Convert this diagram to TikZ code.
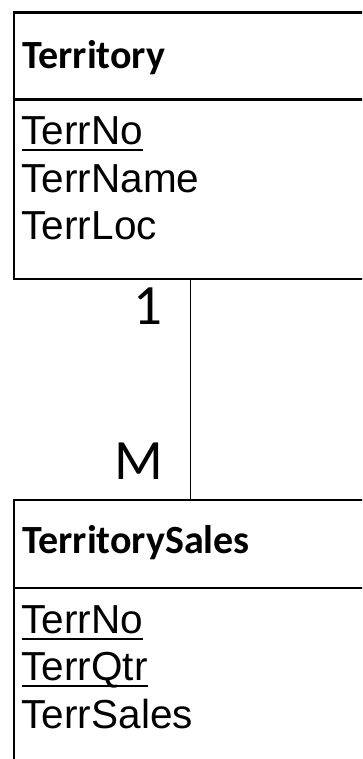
\documentclass[tikz,border=0pt]{standalone}
\usepackage{fontspec}
\setmainfont{Liberation Sans}
\newfontfamily\carlito{Carlito}
\begin{document}
\begin{tikzpicture}[x=1pt,y=1pt,
  entity/.style={draw, line width=2.2pt, inner sep=0pt, anchor=north west, minimum width=380pt},
  title/.style={anchor=base west, inner sep=0pt, font=\carlito\bfseries\fontsize{40}{42}\selectfont},
  attr/.style={anchor=base west, inner sep=0pt, font=\fontsize{40.5}{43}\selectfont},
  card/.style={anchor=base east, inner sep=0pt, font=\carlito\fontsize{57}{60}\selectfont},
  keyline/.style={line width=2pt},
  divider/.style={line width=2.2pt},
  link/.style={line width=1pt}]
\useasboundingbox (0,0) rectangle (362,759);
\clip (0,0) rectangle (362,759);
% entity boxes
\node[entity, minimum height=266.2pt] (territory) at (12.5,747.5) {};
\node[entity, minimum height=279.7pt] (sales) at (12.5,259.7) {};
\draw[divider] (territory.west |- 0,659.5) -- (territory.east |- 0,659.5);
\draw[divider] (sales.west |- 0,170.7) -- (sales.east |- 0,170.7);
% titles
\node[title] (t1) at (22,690.7) {Territory};
\node[title] (t2) at (22,205) {TerritorySales};
% attributes
\node[attr] (a1) at (21.5,614) {TerrNo};
\node[attr] (a2) at (21.5,566.5) {TerrName};
\node[attr] (a3) at (21.5,519) {TerrLoc};
\node[attr] (b1) at (21.5,125.7) {TerrNo};
\node[attr] (b2) at (21.5,78.2) {TerrQtr};
\node[attr] (b3) at (21.5,30.7) {TerrSales};
\draw[keyline] ([yshift=-5.5pt]a1.base west) -- ([yshift=-5.5pt]a1.base east);
\draw[keyline] ([yshift=-5.5pt]b1.base west) -- ([yshift=-5.5pt]b1.base east);
\draw[keyline] ([yshift=-5.5pt]b2.base west) -- ([yshift=-5.5pt]b2.base east);
% relationship
\coordinate (conn) at (190.5,0);
\draw[link] (territory.south -| conn) -- (sales.north -| conn);
\node[card] (one) at (163,434) {1};
\node[card] (many) at (163,279) {M};
\end{tikzpicture}
\end{document}
